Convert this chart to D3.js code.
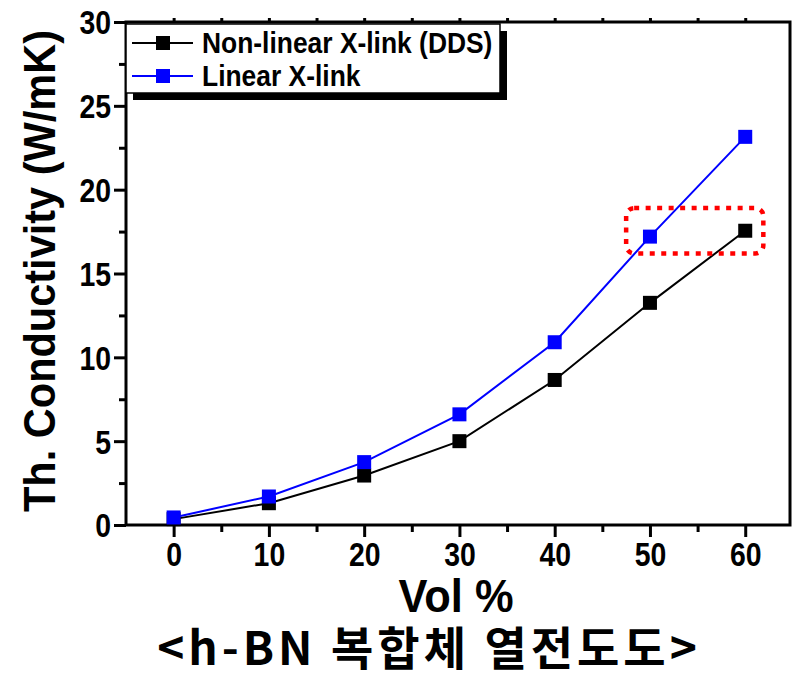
<!DOCTYPE html>
<html><head><meta charset="utf-8">
<script src="https://cdn.jsdelivr.net/npm/d3@7"></script>
<style>body{margin:0;background:#fff}svg{display:block}</style>
</head><body>
<script>
const volPercent = [0, 10, 20, 30, 40, 50, 60];
const nonLinear = [0.35, 1.3, 2.95, 5.0, 8.65, 13.25, 17.55];
const linear = [0.45, 1.7, 3.75, 6.6, 10.9, 17.2, 23.15];
const seriesNames = ["Non-linear X-link (DDS)", "Linear X-link"];
const seriesColors = ["#000000", "#0000ff"];
const xTicks = [0, 10, 20, 30, 40, 50, 60];
const yTicks = [0, 5, 10, 15, 20, 25, 30];

const W = 793, H = 674;
const m = {l:126, r:3, t:22, b:149};
const svg = d3.select("body").append("svg").attr("width", W).attr("height", H);
const x = d3.scaleLinear().domain([-5, 64.7]).range([m.l, W - m.r]);
const y = d3.scaleLinear().domain([0, 30]).range([H - m.b, m.t]);
const font = "'Liberation Sans',Arial,sans-serif";

function condense(sel, f) {
  sel.each(function(){
    const L = this.getComputedTextLength();
    d3.select(this).attr("textLength", L*f).attr("lengthAdjust","spacingAndGlyphs");
  });
}

// frame
svg.append("rect").attr("x", x.range()[0]).attr("y", y(30)).attr("width", x.range()[1]-x.range()[0]).attr("height", y(0)-y(30))
  .attr("fill","none").attr("stroke","#000").attr("stroke-width",3);

// axes
const xAx = svg.append("g").attr("transform", `translate(0,${y(0)})`)
  .call(d3.axisBottom(x).tickValues(xTicks).tickSize(12).tickPadding(6).tickFormat(d3.format("d")));
const xMinor = svg.append("g").attr("transform", `translate(0,${y(0)})`)
  .call(d3.axisBottom(x).tickValues([5,15,25,35,45,55]).tickSize(7).tickFormat(""));
const yAx = svg.append("g").attr("transform", `translate(${m.l},0)`)
  .call(d3.axisLeft(y).tickValues(yTicks).tickSize(12).tickPadding(3).tickFormat(d3.format("d")));
const yMinor = svg.append("g").attr("transform", `translate(${m.l},0)`)
  .call(d3.axisLeft(y).tickValues([2.5,7.5,12.5,17.5,22.5,27.5]).tickSize(7).tickFormat(""));
const xTop = svg.append("g").attr("transform", `translate(0,${y(30)})`)
  .call(d3.axisTop(x).tickValues([0,5,10,15,20,25,30,35,40,45,50,55,60]).tickSize(4).tickFormat(""));
[xAx, xMinor, yAx, yMinor, xTop].forEach(g => {
  g.select(".domain").remove();
  g.selectAll(".tick line").attr("stroke","#000").attr("stroke-width",3);
  g.selectAll("text").attr("font-family", font).attr("font-weight","bold").attr("font-size",33).attr("fill","#000");
});
yAx.selectAll("text").attr("dy","0.36em");
condense(xAx.selectAll("text"), 0.86);
condense(yAx.selectAll("text"), 0.86);

// lines and markers
const data = [nonLinear, linear];
const line = d3.line().x((d,i)=>x(volPercent[i])).y(d=>y(d));
data.forEach((vals, s) => {
  svg.append("path").attr("d", line(vals)).attr("fill","none").attr("stroke", seriesColors[s]).attr("stroke-width",2);
  svg.selectAll(null).data(vals).enter().append("rect")
    .attr("x",(d,i)=>x(volPercent[i])-7).attr("y",d=>y(d)-7).attr("width",14).attr("height",14)
    .attr("fill", seriesColors[s]);
});

// red dotted highlight
svg.append("rect").attr("x", x(47.5)).attr("y", y(18.9)).attr("width", x(61.9)-x(47.5)).attr("height", y(16.2)-y(18.9))
  .attr("rx",8).attr("fill","none").attr("stroke","#ff0000").attr("stroke-width",4.5).attr("stroke-dasharray","5,6.5");

// legend
const lg = svg.append("g");
lg.append("rect").attr("x",133).attr("y",31).attr("width",374).attr("height",69).attr("fill","#000");
lg.append("rect").attr("x",126).attr("y",24).attr("width",374).attr("height",69).attr("fill","#fff").attr("stroke","#000").attr("stroke-width",1.5);
seriesNames.forEach((name,i) => {
  const ly = 43 + i*33;
  lg.append("line").attr("x1",132).attr("x2",193).attr("y1",ly).attr("y2",ly).attr("stroke",seriesColors[i]).attr("stroke-width",2);
  lg.append("rect").attr("x",156).attr("y",ly-7).attr("width",14).attr("height",14).attr("fill",seriesColors[i]);
  const t = lg.append("text").attr("x",202).attr("y",ly+10).text(name)
    .attr("font-family",font).attr("font-weight","bold").attr("font-size",30).attr("fill","#000");
  condense(t, 0.88);
});

// axis titles
const yt = svg.append("text").attr("transform",`translate(55,271) rotate(-90)`).attr("text-anchor","middle")
  .attr("font-family",font).attr("font-weight","bold").attr("font-size",45).text("Th. Conductivity (W/mK)");
yt.attr("textLength",482).attr("lengthAdjust","spacingAndGlyphs");
const xt = svg.append("text").attr("x",456).attr("y",612).attr("text-anchor","middle")
  .attr("font-family",font).attr("font-weight","bold").attr("font-size",47).text("Vol %");
xt.attr("textLength",115).attr("lengthAdjust","spacingAndGlyphs");
const cap = svg.append("text").attr("x",429).attr("y",665).attr("text-anchor","middle")
  .attr("font-family","'Noto Sans CJK KR',sans-serif").attr("font-weight","bold").attr("font-size",46)
  .attr("letter-spacing",4).text("<h-BN 복합체 열전도도>");
</script>
</body></html>
